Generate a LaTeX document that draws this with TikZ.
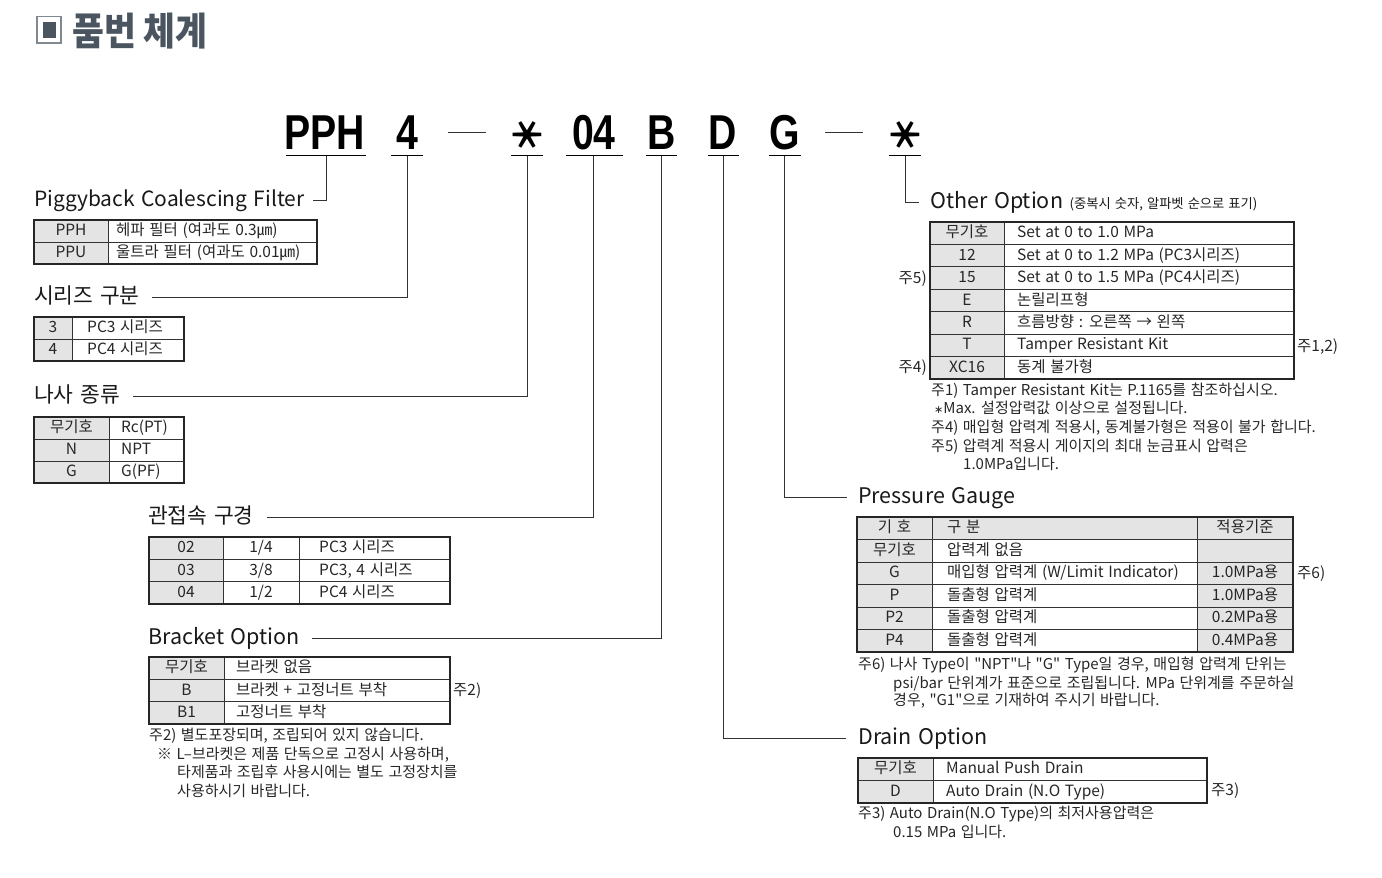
\documentclass[tikz,border=0pt]{standalone}
\usepackage{fontspec}
\setmainfont{Noto Sans CJK KR}[Ligatures=TeXOff, WordSpace=1.35]
\newfontfamily\codefont[FakeStretch=0.8]{Liberation Sans}
\newfontfamily\titlefont[FakeStretch=0.9]{Noto Sans CJK KR}
\newfontfamily\symfont{DejaVu Sans}
\definecolor{cellgray}{HTML}{E4E4E4}
\definecolor{titlegray}{HTML}{4A5560}

\tikzset{
  lbl/.style={anchor=west, inner sep=0pt, text height=15pt, text depth=3pt,
    text=black!90, font=\fontsize{21.5}{24}\selectfont},
  cell/.style={inner sep=0pt, text height=11.5pt, text depth=2.5pt,
    text=black!85, font=\fontsize{15.5}{18}\selectfont},
  cellw/.style={cell, anchor=west},
  note/.style={cellw, font=\fontsize{15}{17}\selectfont},
  frame/.style={line width=1.5pt, draw=black!85},
  grid/.style={line width=1pt, draw=black!80},
  lead/.style={line width=1pt, draw=black!80},
  code/.style={inner sep=0pt, font=\codefont\bfseries\fontsize{49}{50}\selectfont},
  ast/.style={inner sep=0pt, rotate=90, font=\bfseries\fontsize{37}{40}\selectfont}
}

\begin{document}
\begin{tikzpicture}[x=1pt,y=-1pt]
\useasboundingbox (0,0) rectangle (1382,878);

% title
\draw[line width=1.2pt, draw=titlegray!70] (37,16.5) rectangle (61,43);
\fill[titlegray] (43,22) rectangle (55.5,37.5);
\node[anchor=west, inner sep=0pt, text=titlegray,
  font=\titlefont\bfseries\fontsize{38.5}{42}\selectfont] (title) at (72,31) {품번 체계};

% part number
\node[code] (pph) at (325,133) {PPH};
\node[code] (c4) at (407,133) {4};
\draw[lead] (448,132) -- (486,132);
\node[ast] (a1) at (527,135) {＊};
\node[code] (c04) at (594,133) {04};
\node[code] (cB) at (662,133) {B};
\node[code] (cD) at (723,133) {D};
\node[code] (cG) at (785,133) {G};
\draw[lead] (825,132) -- (863,132);
\node[ast] (a2) at (905,135) {＊};

\draw[line width=1.1pt] (286,155.5) -- (366,155.5) (391,155.5) -- (423,155.5)
  (511,155.5) -- (543,155.5) (566,155.5) -- (623,155.5) (646,155.5) -- (677,155.5)
  (708,155.5) -- (739,155.5) (769,155.5) -- (801,155.5) (889,155.5) -- (921,155.5);
\coordinate (uPPH) at (326,155.5); \coordinate (u4) at (407,155.5);
\coordinate (uA1) at (527,155.5); \coordinate (u04) at (593.5,155.5);
\coordinate (uB) at (661.5,155.5); \coordinate (uD) at (723.5,155.5);
\coordinate (uG) at (784.5,155.5); \coordinate (uA2) at (905,155.5);

% labels
\node[lbl, font=\fontsize{21}{24}\selectfont] (pig) at (34,200) {Piggyback Coalescing Filter};
\node[lbl] (ser) at (34,297) {시리즈 구분};
\node[lbl] (thr) at (34,396) {나사 종류};
\node[lbl] (port) at (148,517) {관접속 구경};
\node[lbl] (brk) at (148,638) {Bracket Option};
\node[lbl] (oth) at (930,202) {Other Option {\fontsize{13.3}{16}\selectfont (중복시 숫자, 알파벳 순으로 표기)}};
\node[lbl] (prs) at (858,497) {Pressure Gauge};
\node[lbl] (drn) at (858,738) {Drain Option};

\draw[lead] (uPPH) |- ([xshift=8pt]pig.east);
\draw[lead] (u4) |- ([xshift=12pt]ser.east);
\draw[lead] (uA1) |- ([xshift=13pt]thr.east);
\draw[lead] (u04) |- ([xshift=13pt]port.east);
\draw[lead] (uB) |- ([xshift=12pt]brk.east);
\draw[lead] (uA2) |- ([xshift=-11pt]oth.west);
\draw[lead] (uG) |- ([xshift=-11pt]prs.west);
\draw[lead] (uD) |- ([xshift=-12pt]drn.west);

% Piggyback table
\fill[cellgray] (34,220) rectangle (108,264);
\draw[grid] (34,242) -- (317,242) (108,220) -- (108,264);
\draw[frame] (34,220) rectangle (317,264);
\node[cell] (p1a) at (71,231) {PPH};
\node[cellw] (p1b) at (116,231) {헤파 필터 (여과도 0.3㎛)};
\node[cell] (p2a) at (71,253) {PPU};
\node[cellw] (p2b) at (116,253) {울트라 필터 (여과도 0.01㎛)};

% series table
\fill[cellgray] (34,317) rectangle (72,361);
\draw[grid] (34,339) -- (184,339) (72,317) -- (72,361);
\draw[frame] (34,317) rectangle (184,361);
\node[cell] (s1a) at (53,328) {3};
\node[cellw] (s1b) at (87,328) {PC3 시리즈};
\node[cell] (s2a) at (53,350) {4};
\node[cellw] (s2b) at (87,350) {PC4 시리즈};

% thread table
\fill[cellgray] (34,417) rectangle (109,483);
\draw[grid] (34,439) -- (184,439) (34,461) -- (184,461) (109,417) -- (109,483);
\draw[frame] (34,417) rectangle (184,483);
\node[cell] (t1a) at (71.5,428) {무기호};
\node[cellw] (t1b) at (121,428) {Rc(PT)};
\node[cell] (t2a) at (71.5,450) {N};
\node[cellw] (t2b) at (121,450) {NPT};
\node[cell] (t3a) at (71.5,472) {G};
\node[cellw] (t3b) at (121,472) {G(PF)};

% port size table
\fill[cellgray] (149,537) rectangle (223,604);
\draw[grid] (149,559.3) -- (450,559.3) (149,581.7) -- (450,581.7)
  (223,537) -- (223,604) (299,537) -- (299,604);
\draw[frame] (149,537) rectangle (450,604);
\node[cell] (j1a) at (186,548) {02};
\node[cell] (j1b) at (261,548) {1/4};
\node[cellw] (j1c) at (319,548) {PC3 시리즈};
\node[cell] (j2a) at (186,570.5) {03};
\node[cell] (j2b) at (261,570.5) {3/8};
\node[cellw] (j2c) at (319,570.5) {PC3, 4 시리즈};
\node[cell] (j3a) at (186,593) {04};
\node[cell] (j3b) at (261,593) {1/2};
\node[cellw] (j3c) at (319,593) {PC4 시리즈};

% bracket table
\fill[cellgray] (149,657) rectangle (224,724);
\draw[grid] (149,679.3) -- (450,679.3) (149,701.7) -- (450,701.7) (224,657) -- (224,724);
\draw[frame] (149,657) rectangle (450,724);
\node[cell] (b1a) at (186.5,668) {무기호};
\node[cellw] (b1b) at (236,668) {브라켓 없음};
\node[cell] (b2a) at (186.5,690.5) {B};
\node[cellw] (b2b) at (236,690.5) {브라켓 + 고정너트 부착};
\node[cell] (b3a) at (186.5,713) {B1};
\node[cellw] (b3b) at (236,713) {고정너트 부착};
\node[cellw] (b2n) at (453,691) {주2)};
\node[note] (bn1) at (149,736) {주2) 별도포장되며, 조립되어 있지 않습니다.};
\node[note] (bn2) at (157,755) {※ L–브라켓은 제품 단독으로 고정시 사용하며,};
\node[note] (bn3) at (177,773) {타제품과 조립후 사용시에는 별도 고정장치를};
\node[note] (bn4) at (177,792) {사용하시기 바랍니다.};

% other option table
\fill[cellgray] (930,222) rectangle (1004,379);
\draw[grid] (930,244.4) -- (1294,244.4) (930,266.9) -- (1294,266.9)
  (930,289.3) -- (1294,289.3) (930,311.7) -- (1294,311.7)
  (930,334.1) -- (1294,334.1) (930,356.6) -- (1294,356.6) (1004,222) -- (1004,379);
\draw[frame] (930,222) rectangle (1294,379);
\node[cell] (o1a) at (967,233.2) {무기호};
\node[cellw] (o1b) at (1017,233.2) {Set at 0 to 1.0 MPa};
\node[cell] (o2a) at (967,255.6) {12};
\node[cellw] (o2b) at (1017,255.6) {Set at 0 to 1.2 MPa (PC3시리즈)};
\node[cell] (o3a) at (967,278.1) {15};
\node[cellw] (o3b) at (1017,278.1) {Set at 0 to 1.5 MPa (PC4시리즈)};
\node[cell] (o4a) at (967,300.5) {E};
\node[cellw] (o4b) at (1017,300.5) {논릴리프형};
\node[cell] (o5a) at (967,322.9) {R};
\node[cellw] (o5b) at (1017,322.9) {흐름방향 : 오른쪽 → 왼쪽};
\node[cell] (o6a) at (967,345.4) {T};
\node[cellw] (o6b) at (1017,345.4) {Tamper Resistant Kit};
\node[cell] (o7a) at (967,367.8) {XC16};
\node[cellw] (o7b) at (1017,367.8) {동계 불가형};
\node[cell, anchor=east] (o3n) at (927,278.5) {주5)};
\node[cell, anchor=east] (o7n) at (927,368) {주4)};
\node[cellw] (o6n) at (1297,347) {주1,2)};
\node[note] (on1) at (931,391) {주1) Tamper Resistant Kit는 P.1165를 참조하십시오.};
\node[note] (on2) at (934,409) {{\symfont\fontsize{11}{12}\selectfont ∗}Max. 설정압력값 이상으로 설정됩니다.};
\node[note] (on3) at (931,428) {주4) 매입형 압력계 적용시, 동계불가형은 적용이 불가 합니다.};
\node[note] (on4) at (931,447) {주5) 압력계 적용시 게이지의 최대 눈금표시 압력은};
\node[note] (on5) at (963,465) {1.0MPa입니다.};

% pressure gauge table
\fill[cellgray] (857,517) rectangle (1293,539.5);
\fill[cellgray] (857,517) rectangle (932,652);
\fill[cellgray] (1197,517) rectangle (1293,652);
\draw[grid] (857,539.5) -- (1293,539.5) (857,562) -- (1293,562) (857,584.5) -- (1293,584.5)
  (857,607) -- (1293,607) (857,629.5) -- (1293,629.5)
  (932,517) -- (932,652) (1197,517) -- (1197,652);
\draw[frame] (857,517) rectangle (1293,652);
\node[cell] (g0a) at (894.5,528.3) {기 호};
\node[cellw] (g0b) at (947,528.3) {구 분};
\node[cell] (g0c) at (1245,528.3) {적용기준};
\node[cell] (g1a) at (894.5,550.8) {무기호};
\node[cellw] (g1b) at (947,550.8) {압력계 없음};
\node[cell] (g2a) at (894.5,573.3) {G};
\node[cellw] (g2b) at (947,573.3) {매입형 압력계 (W/Limit Indicator)};
\node[cell] (g2c) at (1245,573.3) {1.0MPa용};
\node[cell] (g3a) at (894.5,595.8) {P};
\node[cellw] (g3b) at (947,595.8) {돌출형 압력계};
\node[cell] (g3c) at (1245,595.8) {1.0MPa용};
\node[cell] (g4a) at (894.5,618.3) {P2};
\node[cellw] (g4b) at (947,618.3) {돌출형 압력계};
\node[cell] (g4c) at (1245,618.3) {0.2MPa용};
\node[cell] (g5a) at (894.5,640.8) {P4};
\node[cellw] (g5b) at (947,640.8) {돌출형 압력계};
\node[cell] (g5c) at (1245,640.8) {0.4MPa용};
\node[cellw] (g2n) at (1297,574) {주6)};
\node[note] (gn1) at (858,665) {주6) 나사 Type이 "NPT"나 "G" Type일 경우, 매입형 압력계 단위는};
\node[note] (gn2) at (893,684) {psi/bar 단위계가 표준으로 조립됩니다. MPa 단위계를 주문하실};
\node[note] (gn3) at (893,701) {경우, "G1"으로 기재하여 주시기 바랍니다.};

% drain table
\fill[cellgray] (858,758) rectangle (933,803);
\draw[grid] (858,780.5) -- (1207,780.5) (933,758) -- (933,803);
\draw[frame] (858,758) rectangle (1207,803);
\node[cell] (d1a) at (895.5,769.3) {무기호};
\node[cellw] (d1b) at (946,769.3) {Manual Push Drain};
\node[cell] (d2a) at (895.5,791.8) {D};
\node[cellw] (d2b) at (946,791.8) {Auto Drain (N.O Type)};
\node[cellw] (d2n) at (1211,791) {주3)};
\node[note] (dn1) at (858,814) {주3) Auto Drain(N.O Type)의 최저사용압력은};
\node[note] (dn2) at (893,833) {0.15 MPa 입니다.};
\end{tikzpicture}
\end{document}
